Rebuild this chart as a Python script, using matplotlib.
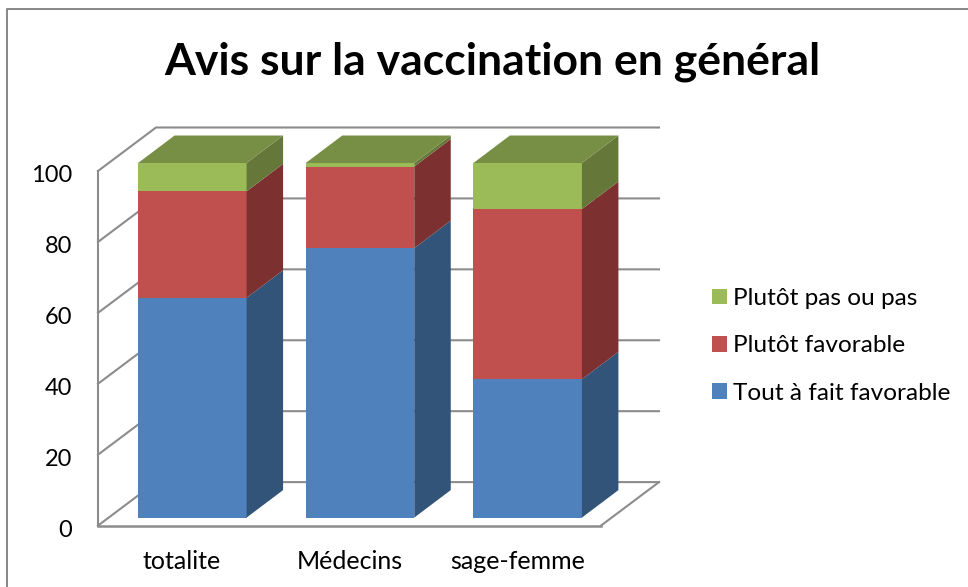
import matplotlib
matplotlib.use("Agg")
import matplotlib.pyplot as plt
from matplotlib.lines import Line2D
from matplotlib.patches import Patch, Polygon
from matplotlib.transforms import ScaledTranslation

categories = ["totalite", "Médecins", "sage-femme"]
tout_a_fait = [62, 76, 39]
plutot_favorable = [30, 23, 48]
plutot_pas = [8, 1, 13]
series_names = ["Tout à fait favorable", "Plutôt favorable", "Plutôt pas ou pas"]
y_ticks = [0, 20, 40, 60, 80, 100]

front_colors = ["#4F81BD", "#C0504D", "#9BBB59"]
side_colors = ["#325479", "#7C3130", "#65783A"]
top_color = "#768F45"
grid_color = "#8C8C8C"

W, H = 968, 587
plt.rcParams["font.family"] = ["Lato", "DejaVu Sans"]

fig = plt.figure(figsize=(W / 100, H / 100), dpi=100)
ax = fig.add_axes([98 / W, 1 - 525.6 / H, 503 / W, 354.6 / H])
ax.set_xlim(-0.5, 2.5)
ax.set_ylim(0, 100)

# depth of the fake 3D box, in data units
wall_dx = 58 / 167.67
wall_dy = 43.5 / 3.546
bar_dx = 36.5 / 167.67
bar_dy = 27.5 / 3.546
inset_dx = 10.5 / 167.67
inset_dy = 8 / 3.546
bar_width = 108.5 / 167.67

x0, x1 = ax.get_xlim()

# walls and floor
for t in y_ticks:
    ax.plot(
        [x0, x0 + wall_dx, x1 + wall_dx],
        [t, t + wall_dy, t + wall_dy],
        color=grid_color, lw=1.5, clip_on=False, zorder=1,
    )
ax.plot([x1, x1 + wall_dx], [0, wall_dy], color=grid_color, lw=1.5, clip_on=False, zorder=1)
ax.plot([x0, x1], [0, 0], color=grid_color, lw=1.8, clip_on=False, zorder=1)
ax.plot([x0, x0], [0, 100], color=grid_color, lw=1.5, clip_on=False, zorder=1)

# stacked bars
all_series = [tout_a_fait, plutot_favorable, plutot_pas]
for i in range(len(categories)):
    xl = i + inset_dx - bar_width / 2
    xr = xl + bar_width
    bottom = inset_dy
    for s, values in enumerate(all_series):
        top = bottom + values[i]
        ax.bar(xl + bar_width / 2, values[i], width=bar_width, bottom=bottom,
               color=front_colors[s], zorder=3, clip_on=False)
        ax.add_patch(Polygon(
            [(xr, bottom), (xr + bar_dx, bottom + bar_dy),
             (xr + bar_dx, top + bar_dy), (xr, top)],
            closed=True, facecolor=side_colors[s], edgecolor="none",
            zorder=3, clip_on=False,
        ))
        bottom = top
    ax.add_patch(Polygon(
        [(xl, bottom), (xr, bottom), (xr + bar_dx, bottom + bar_dy), (xl + bar_dx, bottom + bar_dy)],
        closed=True, facecolor=top_color, edgecolor="none", zorder=3, clip_on=False,
    ))

for spine in ax.spines.values():
    spine.set_visible(False)
ax.patch.set_visible(False)
ax.set_xticks(range(len(categories)))
ax.set_xticklabels(categories)
ax.set_yticks(y_ticks)
ax.tick_params(axis="x", length=0, pad=17.5, labelsize=18)
ax.tick_params(axis="y", length=0, pad=18.5, labelsize=17)
# y labels sit a little below their gridline in the original
shift_down = ScaledTranslation(0, -2.5 / 100, fig.dpi_scale_trans)
for label in ax.get_yticklabels():
    label.set_transform(label.get_transform() + shift_down)

fig.text(492.5 / W, 1 - 75 / H, "Avis sur la vaccination en général",
         ha="center", va="baseline", fontsize=32, fontweight="bold", color="black")

handles = [Patch(facecolor=front_colors[s], edgecolor="none") for s in (2, 1, 0)]
labels = [series_names[s] for s in (2, 1, 0)]
fig.legend(
    handles, labels, loc="upper left", bbox_to_anchor=(712 / W, 1 - 288 / H),
    frameon=False, fontsize=17.6, handlelength=0.615, handleheight=0.615,
    handletextpad=0.25, labelspacing=1.08, borderpad=0, borderaxespad=0,
)

# chart area border, cut by the image on the right and at the bottom
fig.add_artist(Line2D([7 / W, 7 / W, 1], [0, 1 - 8.5 / H, 1 - 8.5 / H],
                      color="#868686", lw=1.4, transform=fig.transFigure))

fig.savefig("out.png", dpi=100)
